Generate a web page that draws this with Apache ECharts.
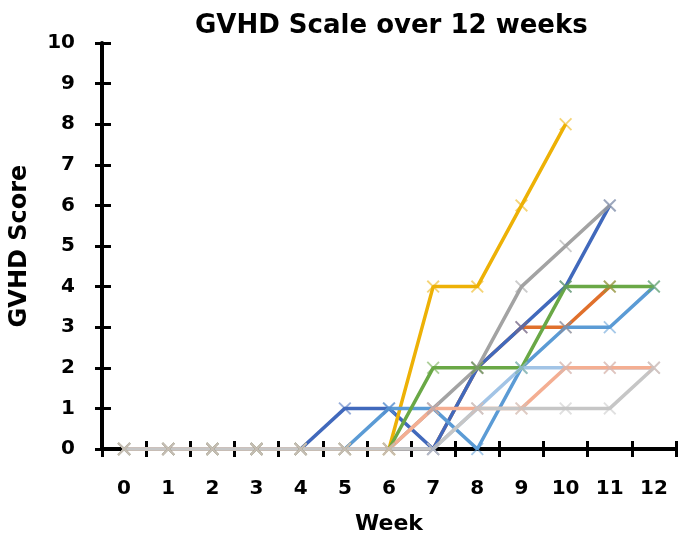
<!DOCTYPE html>
<html>
<head>
<meta charset="utf-8">
<script src="https://cdn.jsdelivr.net/npm/echarts@6/dist/echarts.min.js"></script>
<style>
  html, body { margin: 0; padding: 0; background: #fff; }
  #chart { width: 683px; height: 542px; }
</style>
</head>
<body>
<div id="chart"></div>
<script>
const weeks = ["0", "1", "2", "3", "4", "5", "6", "7", "8", "9", "10", "11", "12"];

// one array per patient line, drawn bottom to top
const orange     = [0, 0, 0, 0, 0, 0, 0, 0, 2, 3, 3, 4, null];
const darkBlue   = [0, 0, 0, 0, 0, 1, 1, 0, 2, 3, 4, 6, null];
const gray       = [0, 0, 0, 0, 0, 0, 0, 1, 2, 4, 5, 6, null];
const gold       = [0, 0, 0, 0, 0, 0, 0, 4, 4, 6, 8, null, null];
const midBlue    = [0, 0, 0, 0, 0, 0, 1, 1, 0, 2, 3, 3, 4];
const green      = [0, 0, 0, 0, 0, 0, 0, 2, 2, 2, 4, 4, 4];
const lightBlue  = [0, 0, 0, 0, 0, 0, 0, 0, 1, 2, 2, 2, 2];
const salmon     = [0, 0, 0, 0, 0, 0, 0, 1, 1, 1, 2, 2, 2];
const lightGray  = [0, 0, 0, 0, 0, 0, 0, 0, 1, 1, 1, 1, 2];

const yTicks = [0, 10, 1]; // min, max, interval

const lines = [
  ["orange", orange, "#E0702C"],
  ["darkBlue", darkBlue, "#4169BC"],
  ["gray", gray, "#A3A3A3"],
  ["gold", gold, "#EDB106"],
  ["midBlue", midBlue, "#5B9BD5"],
  ["green", green, "#6AA846"],
  ["lightBlue", lightBlue, "#A2C4E6"],
  ["salmon", salmon, "#F4AE92"],
  ["lightGray", lightGray, "#C6C6C6"],
];

const cross = "path://M0,1L1,0L5,4L9,0L10,1L6,5L10,9L9,10L5,6L1,10L0,9L4,5Z";
const font = "DejaVu Sans";

const series = lines.map(([name, data, color]) => ({
  name: name,
  type: "line",
  data: data,
  xAxisIndex: 0,
  yAxisIndex: 0,
  symbol: cross,
  symbolSize: 13,
  showAllSymbol: true,
  connectNulls: false,
  lineStyle: { color: color, width: 3.5 },
  itemStyle: { color: color, opacity: 0.55 },
  emphasis: { disabled: true },
  animation: false,
}));

const chart = echarts.init(document.getElementById("chart"));
chart.setOption({
  animation: false,
  title: {
    text: "GVHD Scale over 12 weeks",
    left: 190,
    top: 8,
    textStyle: { fontFamily: font, fontWeight: "bold", fontSize: 26, color: "#000" },
  },
  grid: { left: 98, right: 7, top: 43, bottom: 93, containLabel: false },
  xAxis: [
    {
      type: "category",
      data: weeks,
      boundaryGap: true,
      name: "Week",
      nameLocation: "middle",
      nameGap: 64,
      nameTextStyle: { fontFamily: font, fontWeight: "bold", fontSize: 22, color: "#000" },
      axisLine: { show: true, onZero: false, lineStyle: { color: "#000", width: 4 } },
      axisTick: { show: true, alignWithLabel: false, length: 8, lineStyle: { color: "#000", width: 3 } },
      axisLabel: { margin: 30, fontFamily: font, fontWeight: "bold", fontSize: 20, color: "#000" },
      splitLine: { show: false },
    },
    {
      type: "category",
      data: weeks,
      position: "bottom",
      boundaryGap: true,
      axisLine: { show: false },
      axisTick: { show: true, inside: true, length: 8, lineStyle: { color: "#000", width: 3 } },
      axisLabel: { show: false },
      splitLine: { show: false },
    },
  ],
  yAxis: [
    {
      type: "value",
      min: yTicks[0],
      max: yTicks[1],
      interval: yTicks[2],
      name: "GVHD Score",
      nameLocation: "middle",
      nameGap: 70,
      nameTextStyle: { fontFamily: font, fontWeight: "bold", fontSize: 24, color: "#000" },
      axisLine: { show: true, lineStyle: { color: "#000", width: 4 } },
      axisTick: { show: true, length: 7, lineStyle: { color: "#000", width: 3 } },
      axisLabel: { margin: 27, fontFamily: font, fontWeight: "bold", fontSize: 20, color: "#000" },
      splitLine: { show: false },
    },
    {
      type: "value",
      position: "left",
      min: yTicks[0],
      max: yTicks[1],
      interval: yTicks[2],
      axisLine: { show: false },
      axisTick: { show: true, inside: true, length: 9, lineStyle: { color: "#000", width: 3 } },
      axisLabel: { show: false },
      splitLine: { show: false },
    },
  ],
  series: series,
});
</script>
</body>
</html>
